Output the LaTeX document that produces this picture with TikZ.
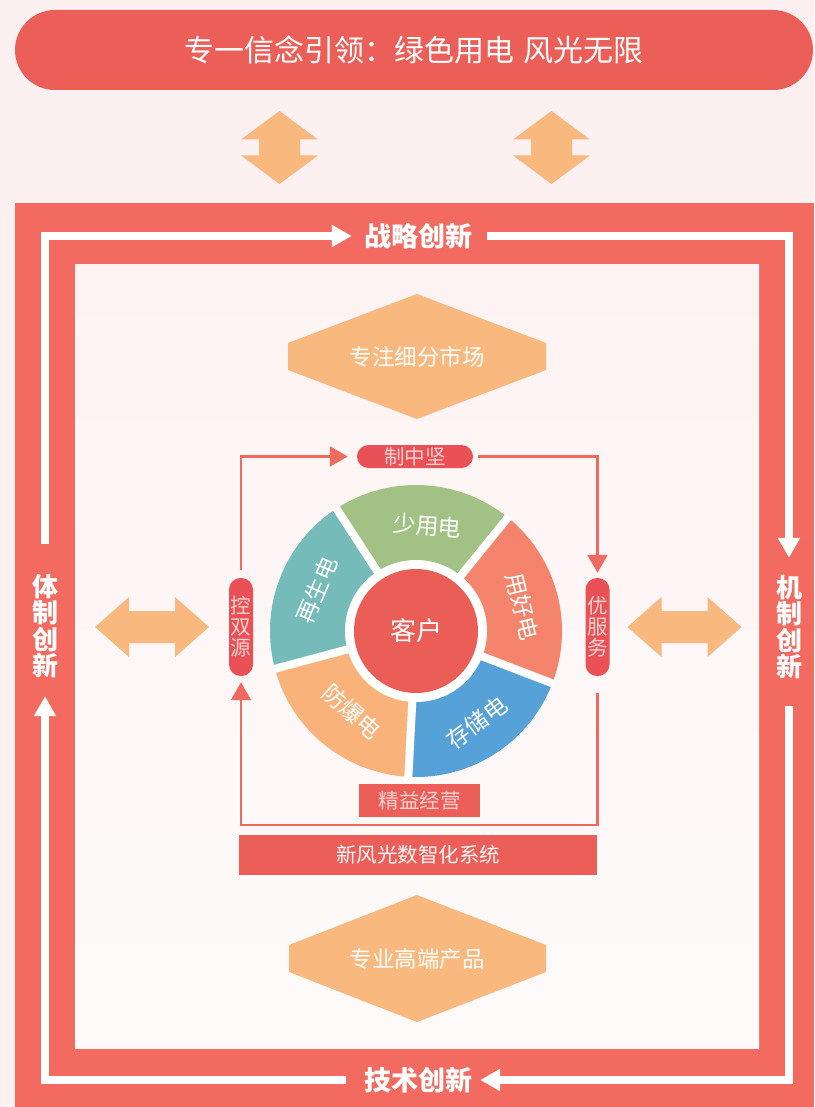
\documentclass[tikz,border=0pt]{standalone}
\usepackage{fontspec}
\setmainfont{Noto Sans CJK SC}
\usetikzlibrary{arrows.meta}
\definecolor{bgpink}{HTML}{FDF0F0}
\definecolor{bannerred}{HTML}{EC5F59}
\definecolor{framered}{HTML}{F26A60}
\definecolor{pillred}{HTML}{EA5157}
\definecolor{pilltext}{HTML}{FBD3D1}
\definecolor{loopred}{HTML}{EF6B5F}
\definecolor{hexorange}{HTML}{F9B87E}
\definecolor{segteal}{HTML}{74BBBA}
\definecolor{seggreen}{HTML}{A2C285}
\definecolor{segsalmon}{HTML}{F4856C}
\definecolor{segblue}{HTML}{56A1D7}
\definecolor{segorange}{HTML}{F9B37A}
\definecolor{hubred}{HTML}{EB5E57}
\newcommand\myfs[2]{\fontsize{#1}{#2}\selectfont}
\tikzset{
  vdarrow/.pic={\fill[hexorange] (0,-36.5) -- (38.5,-8) -- (20.5,-8) -- (20.5,8) -- (38.5,8) -- (0,36.5) -- (-38.5,8) -- (-20.5,8) -- (-20.5,-8) -- (-38.5,-8) -- cycle;},
  hdarrow/.pic={\fill[hexorange] (-57,0) -- (-23,-30) -- (-23,-16) -- (23,-16) -- (23,-30) -- (57,0) -- (23,30) -- (23,16) -- (-23,16) -- (-23,30) -- cycle;},
  frametext/.style={text=white, inner sep=0pt, font=\myfs{27}{27}\bfseries},
  vframetext/.style={text=white, inner sep=0pt, align=center, font=\myfs{26}{26.5}\bfseries},
  wline/.style={draw=white, line width=7.5pt, line join=miter, -{Triangle[width=21pt,length=20pt]}},
  loopline/.style={draw=loopred, line width=2.5pt, -{Triangle[width=20pt,length=18pt]}},
  hpill/.style={fill=pillred, text=pilltext, rounded corners=11.5pt, minimum width=116pt, minimum height=23pt, inner sep=0pt, font=\myfs{20.5}{21}},
  vpill/.style={fill=pillred, text=pilltext, rounded corners=11.5pt, minimum width=24pt, minimum height=98pt, inner sep=0pt, align=center, font=\myfs{20.5}{21}},
  redbox/.style={fill=bannerred, text=pilltext, inner sep=0pt, font=\myfs{20.5}{21}},
  hextext/.style={text=white, font=\myfs{22.5}{23}},
  segtext/.style={text=white, inner sep=0pt, font=\myfs{23}{23}},
}
\begin{document}
\begin{tikzpicture}[x=1pt,y=-1pt]
\useasboundingbox (0,0) rectangle (814,1107);
\fill[bgpink] (0,0) rectangle (814,1107);
% title banner
\node[fill=bannerred, rounded corners=40pt, minimum width=798pt, minimum height=80pt, text=white, font=\myfs{30}{30}] (title) at (414,50) {专一信念引领：绿色用电\hspace{9pt}风光无限};
% vertical double arrows
\pic at (279.5,147.5) {vdarrow};
\pic at (551.5,147.5) {vdarrow};
% outer frame
\fill[framered] (15,203) rectangle (814,1107);
\shade[top color=bgpink!80!white, bottom color=white!70!bgpink] (75,264) rectangle (759,1048);
% frame texts
\node[frametext] (zl) at (418,236) {战略创新};
\node[frametext] (js) at (418,1080) {技术创新};
\node[vframetext] (tz) at (45,626) {体\\制\\创\\新};
\node[vframetext] (jz) at (789,627) {机\\制\\创\\新};
% frame white arrows
\draw[wline, shorten <=30pt, shorten >=12pt] (tz.north) |- (zl.west);
\draw[wline, shorten <=15pt, shorten >=17pt] (zl.east) -| (jz.north);
\draw[wline, shorten <=27pt, shorten >=8pt] (jz.south) |- (js.east);
\draw[wline, shorten <=18pt, shorten >=18pt] (js.west) -| (tz.south);
% hexagons
\fill[hexorange] (417,294) -- (546,343) -- (546,370) -- (417,419) -- (288,370) -- (288,343) -- cycle;
\node[hextext] (market) at (417,357) {专注细分市场};
\fill[hexorange] (417,895) -- (546,945) -- (546,972) -- (417,1022) -- (289,972) -- (289,945) -- cycle;
\node[hextext] (product) at (417,958.5) {专业高端产品};
% horizontal double arrows
\pic at (152,627) {hdarrow};
\pic at (684.5,627) {hdarrow};
% wheel
\begin{scope}[shift={(416,631)}, y=1pt]
  \foreach \c/\col in {87/seggreen, 15/segsalmon, 303/segblue, 231/segorange, 159/segteal} {
    \pgfmathsetmacro\sa{\c-36}
    \pgfmathsetmacro\sb{\c+36}
    \fill[\col] (\sa:70) -- (\sa:146) arc[start angle=\sa, end angle=\sb, radius=146] -- (\sb:70) arc[start angle=\sb, end angle=\sa, radius=70] -- cycle;
  }
  \foreach \g in {51,123,195,267,339} {
    \draw[white, line width=8pt] (0,0) -- (\g:147.5);
  }
  \fill[white] (0,0) circle[radius=71];
  \fill[hubred] (0,0) circle[radius=62];
  \node[segtext, rotate=-4] (s1) at (84:106) {少用电};
  \node[segtext, rotate=-76] (s2) at (13:109) {用好电};
  \node[segtext, rotate=37] (s3) at (303.5:110) {存储电};
  \node[segtext, rotate=-42] (s4) at (231.7:103) {防爆电};
  \node[segtext, rotate=67] (s5) at (157.5:107) {再生电};
\end{scope}
\node[text=white, font=\myfs{26}{26}] (client) at (416,631) {客户};
% pills and boxes
\node[hpill] (zzj) at (415,456.5) {制中坚};
\node[vpill] (ksy) at (241,627) {控\\双\\源};
\node[vpill] (yfw) at (597.5,627) {优\\服\\务};
\node[redbox, minimum width=121pt, minimum height=33pt] (jyjy) at (419.5,800.5) {精益经营};
\node[redbox, text=white!85!pilltext, minimum width=358pt, minimum height=40pt] (xfg) at (418,855) {新风光数智化系统};
\coordinate (loopc) at (241,825);
% loop connectors
\draw[loopline, shorten <=8pt, shorten >=9pt] (ksy.north) |- (zzj.west);
\draw[loopline, shorten <=5pt, shorten >=5pt] (zzj.east) -| (yfw.north);
\draw[loopline, shorten <=17pt, shorten >=6pt] (yfw.south) |- (loopc) -- (ksy.south);
\end{tikzpicture}
\end{document}
